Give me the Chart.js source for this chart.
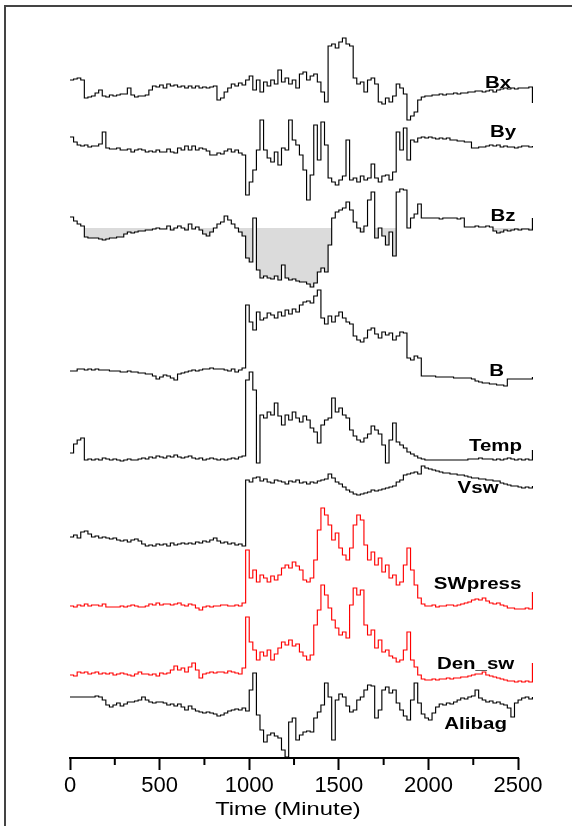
<!DOCTYPE html>
<html lang="en">
<head>
<meta charset="UTF-8">
<title>Solar wind parameters and Alibag</title>
<script src="https://cdn.jsdelivr.net/npm/chart.js"></script>
<style>
  html, body { margin: 0; padding: 0; background: #fff; }
  .page { position: relative; width: 572px; height: 826px; overflow: hidden; }
  /* outer figure frame: only left and top edges show */
  .frame { position: absolute; left: 4px; top: 5px; right: -4px; bottom: -4px;
           border-left: 2px solid #444; border-top: 2px solid #444; }
  canvas { position: absolute; left: 0; top: 0; }
</style>
</head>
<body>
<div class="page">
  <div class="frame"></div>
  <canvas id="chart" width="572" height="826"></canvas>
</div>
<script>
// sample times (minutes)
const minutes = [
  0,20,40,60,80,100,120,140,160,180,
  200,220,240,260,280,300,320,340,360,380,
  400,420,440,460,480,500,520,540,560,580,
  600,620,640,660,680,700,720,740,760,780,
  800,820,840,860,880,900,920,940,960,980,
  1000,1020,1040,1060,1080,1100,1120,1140,1160,1180,
  1200,1220,1240,1260,1280,1300,1320,1340,1360,1380,
  1400,1420,1440,1460,1480,1500,1520,1540,1560,1580,
  1600,1620,1640,1660,1680,1700,1720,1740,1760,1780,
  1800,1820,1840,1860,1880,1900,1920,1940,1960,1980,
  2000,2020,2040,2060,2080,2100,2120,2140,2160,2180,
  2200,2220,2240,2260,2280,2300,2320,2340,2360,2380,
  2400,2420,2440,2460,2480,2500,2520,2540,2560,2580
];

// each trace in its own arbitrary units (0 = quiet level)
const bx = [
  16,17,18,16,-2,-1,0,3,6,0,
  -1,1,0,1,2,2,8,1,-1,0,
  0,1,6,10,9,11,8,12,10,11,
  9,10,8,10,8,10,8,9,8,9,
  10,-4,-2,4,8,12,10,13,11,16,
  20,6,16,4,14,10,16,12,26,14,
  18,12,16,8,22,24,16,20,22,14,
  4,-6,50,52,48,54,58,52,50,18,
  12,14,4,16,18,12,-6,-8,-2,-6,
  0,12,8,2,-24,-20,-16,-4,-1,0,
  0,1,1,2,1,2,2,3,2,3,
  3,4,4,5,5,4,5,6,4,6,
  7,8,7,8,7,8,8,8,9,-7
];
const by = [
  13,8,5,4,5,3,4,4,6,18,
  2,1,1,2,0,0,1,-2,0,1,
  0,-2,-1,-2,0,-2,-2,1,-2,-3,
  2,0,4,0,4,0,2,1,-1,-5,
  -5,-3,-4,-1,1,-2,0,-3,-5,-45,
  -32,-20,0,30,0,-8,-12,-2,-15,2,
  0,30,10,5,-5,-20,-50,-25,25,-10,
  28,5,-28,-32,-35,-30,-26,10,-30,-28,
  -32,-26,-30,-28,-14,-28,-32,-26,-25,-30,
  -22,18,0,22,-10,10,8,12,13,12,
  13,12,11,12,11,12,10,10,9,9,
  8,8,2,2,3,3,4,5,4,5,
  3,4,3,3,2,3,4,4,3,4
];
const bz = [
  11,7,4,2,-9,-10,-10,-10,-11,-12,
  -11,-10,-10,-9,-9,-6,-4,-5,-4,-3,
  -3,-2,-2,-1,0,-1,-1,2,-2,0,
  2,0,-2,4,-1,1,-2,-6,-8,-4,
  0,4,6,12,8,4,0,-4,-8,-30,
  -34,10,-42,-50,-48,-50,-51,-48,-52,-37,
  -50,-52,-51,-53,-54,-54,-56,-59,-55,-44,
  -40,-44,-17,10,16,18,20,26,18,6,
  0,-4,2,28,36,-10,0,-8,-17,-4,
  -28,36,39,38,0,10,14,24,10,10,
  10,10,10,9,10,10,10,10,9,10,
  1,1,1,2,1,1,2,1,-3,-5,
  -4,-2,-3,-2,-1,-2,-1,-1,-2,10
];
const bTotal = [
  -1,-1,1,1,0,1,0,1,0,0,
  0,-1,-1,-1,-2,-2,-1,-2,-2,-3,
  -3,-4,-4,-6,-9,-7,-5,-6,-8,-10,
  -4,-3,-2,-1,0,-1,0,1,1,2,
  1,1,1,0,-1,1,-2,0,2,65,
  48,40,58,50,52,57,55,52,58,54,
  60,56,61,58,65,68,69,67,74,80,
  52,46,54,48,54,58,52,48,46,34,
  30,28,32,40,42,36,32,38,35,37,
  30,34,38,37,12,10,14,12,-6,-6,
  -6,-6,-7,-7,-7,-7,-7,-8,-8,-8,
  -8,-8,-9,-11,-12,-13,-13,-14,-14,-15,
  -15,-16,-9,-9,-9,-9,-9,-9,-9,-7
];
const temp = [
  7,16,20,22,0,1,0,1,0,2,
  1,0,1,0,-1,0,1,0,0,1,
  2,1,3,2,4,3,2,4,3,5,
  3,2,3,4,2,1,2,0,1,2,
  1,0,1,0,1,2,1,3,4,80,
  88,70,-3,45,42,48,45,57,44,35,
  45,40,48,42,38,44,40,32,28,17,
  35,40,42,62,48,52,45,42,30,24,
  20,18,22,26,34,30,26,15,-3,20,
  37,18,15,12,8,6,4,2,1,0,
  0,0,0,0,0,0,0,0,0,0,
  0,1,1,1,2,1,1,1,0,1,
  0,1,2,1,0,1,0,1,0,10
];
const vsw = [
  3,5,2,8,9,6,3,4,2,3,
  2,1,2,0,-1,0,-2,0,1,-1,
  -4,-6,-5,-6,-4,-5,-4,-6,-3,-5,
  -4,-3,-4,-3,-4,-2,-3,-1,-2,0,
  2,-1,-3,-2,-4,-3,-5,-4,-6,60,
  58,62,63,59,61,58,57,60,59,58,
  56,59,58,60,57,58,56,58,57,59,
  60,61,66,62,58,56,53,50,48,46,
  45,46,47,48,50,49,50,51,52,53,
  54,58,60,65,66,67,68,66,74,72,
  71,70,69,68,67,67,66,66,65,65,
  64,63,62,62,61,61,60,60,59,59,
  57,56,55,54,54,53,52,53,52,54
];
const swPress = [
  0,-1,1,0,2,0,1,1,0,2,
  -1,-1,-1,-1,0,-1,0,1,0,-1,
  -1,0,2,1,3,1,2,2,1,2,
  3,1,0,2,1,-2,-4,-1,0,-1,
  0,0,1,1,0,0,1,0,3,56,
  28,36,24,31,28,24,30,26,31,38,
  41,38,44,40,36,26,24,28,46,76,
  98,91,81,66,73,58,51,46,58,81,
  91,86,61,46,54,41,48,34,41,28,
  31,21,24,41,58,36,21,8,2,0,
  0,1,-1,0,0,1,1,0,1,2,
  3,4,6,7,6,8,5,3,2,3,
  1,0,-2,-2,-3,-3,-3,-2,-3,14
];
const denSw = [
  -1,-2,2,1,2,0,1,2,0,1,
  0,1,-1,0,1,0,-1,-2,0,2,
  0,0,-1,0,-2,1,0,1,4,8,
  4,6,2,7,11,4,-4,0,1,2,
  1,2,2,1,3,2,1,0,6,57,
  32,24,14,22,18,24,14,20,26,32,
  29,34,28,30,22,18,14,19,49,64,
  89,79,66,54,46,39,42,36,69,86,
  79,84,49,39,44,26,34,22,24,18,
  16,12,14,24,42,14,7,-1,-5,-6,
  -6,-5,-6,-5,-5,-4,-5,-4,-4,-3,
  -3,-2,-1,0,0,2,-1,-2,-3,-4,
  -5,-6,-7,-7,-8,-7,-8,-7,-8,11
];
const alibag = [
  0,0,0,0,0,0,0,1,0,-3,
  -8,-10,-8,-6,-9,-7,-5,-5,-4,-3,
  0,-3,-5,-6,-5,-5,-6,-8,-7,-9,
  -7,-10,-13,-9,-12,-14,-15,-16,-15,-16,
  -17,-19,-18,-16,-14,-13,-12,-13,-11,-14,
  7,24,-18,-33,-45,-38,-36,-39,-41,-53,
  -60,-25,-21,-43,-38,-35,-34,-35,-21,-15,
  -8,14,0,-43,-3,3,0,-9,-15,-13,
  -3,0,7,12,11,-21,-13,7,10,4,
  7,-6,-13,-19,-23,-3,14,-6,-17,-21,
  -23,-16,-10,-7,-8,-6,-7,-5,-3,-1,
  -2,0,1,7,-1,-3,-5,-4,-6,-5,
  -7,-8,-11,-20,-6,-3,-1,0,-2,0
];

const traceNames = ['Bx', 'By', 'Bz', 'B', 'Temp', 'Vsw', 'SWpress', 'Den_sw', 'Alibag'];
const traceValues = [bx, by, bz, bTotal, temp, vsw, swPress, denSw, alibag];
// vertical stacking level of each trace on the shared (hidden) y axis
const traceOffsets = [662, 608, 530, 388, 298, 218, 152, 84, 61];
const traceColors = ['#000', '#000', '#000', '#000', '#000', '#000', '#ff0000', '#ff0000', '#000'];

// where the trace names sit (minutes, y level)
const labelMinutes = [2388, 2416, 2416, 2380, 2374, 2277, 2274, 2263, 2263];
const labelLevels = [670, 621, 537, 382, 307, 265, 169, 89, 29];

// x axis ticks
const tickValues = [0, 250, 500, 750, 1000, 1250, 1500, 1750, 2000, 2250, 2500];
const tickLabels = ['0', '', '500', '', '1000', '', '1500', '', '2000', '', '2500'];
const xTitle = 'Time (Minute)';

const FONT = "'Liberation Sans', Arial, sans-serif";

const datasets = traceNames.map((name, k) => {
  const ds = {
    label: name,
    data: minutes.map((t, i) => ({ x: t, y: traceOffsets[k] + traceValues[k][i] })),
    borderColor: traceColors[k],
    borderWidth: 1.15,
    stepped: true,
    pointRadius: 0,
    fill: false
  };
  if (name === 'Bz') {
    // shade where Bz is southward (below its zero line)
    ds.fill = { target: { value: traceOffsets[k] }, above: 'rgba(0,0,0,0)', below: 'rgba(190,190,190,0.55)' };
  }
  return ds;
});

// axis line (stops at 2500), short minor ticks, trace names and axis title
const decor = {
  id: 'decor',
  afterDraw(chart) {
    const ctx = chart.ctx;
    const xs = chart.scales.x;
    const ys = chart.scales.y;
    const bottom = chart.chartArea.bottom;
    ctx.save();
    ctx.strokeStyle = '#000';
    ctx.lineWidth = 2;
    ctx.beginPath();
    ctx.moveTo(xs.getPixelForValue(0) - 1, bottom);
    ctx.lineTo(xs.getPixelForValue(2500) + 1, bottom);
    ctx.stroke();
    tickValues.forEach((v, i) => {
      if (tickLabels[i]) return;
      const px = xs.getPixelForValue(v);
      ctx.beginPath();
      ctx.moveTo(px, bottom);
      ctx.lineTo(px, bottom + 7);
      ctx.stroke();
    });

    ctx.fillStyle = '#000';
    ctx.textAlign = 'center';
    ctx.textBaseline = 'alphabetic';
    ctx.font = 'bold 16px ' + FONT;
    traceNames.forEach((name, k) => {
      ctx.save();
      ctx.translate(xs.getPixelForValue(labelMinutes[k]), ys.getPixelForValue(labelLevels[k]));
      ctx.scale(1.28, 1);
      ctx.fillText(name, 0, 0);
      ctx.restore();
    });

    ctx.font = '19px ' + FONT;
    ctx.save();
    ctx.translate(xs.getPixelForValue(1216), bottom + 57);
    ctx.scale(1.25, 1);
    ctx.fillText(xTitle, 0, 0);
    ctx.restore();
    ctx.restore();
  }
};

new Chart(document.getElementById('chart').getContext('2d'), {
  type: 'line',
  data: { datasets: datasets },
  options: {
    responsive: false,
    animation: false,
    devicePixelRatio: 1,
    layout: { padding: { left: 70, right: 36, top: 20, bottom: 0 } },
    plugins: { legend: { display: false }, tooltip: { enabled: false } },
    scales: {
      x: {
        type: 'linear',
        min: 0,
        max: 2600,
        afterBuildTicks: (s) => { s.ticks = tickValues.map(v => ({ value: v })); },
        afterFit: (s) => { s.height = 68; },
        border: { display: false },
        grid: {
          drawOnChartArea: false,
          drawTicks: true,
          tickLength: 12,
          tickWidth: 2,
          tickColor: (c) => (tickLabels[c.index] ? '#000' : 'rgba(0,0,0,0)')
        },
        ticks: {
          color: '#000',
          font: { family: FONT, size: 22 },
          padding: 3,
          maxRotation: 0,
          autoSkip: false,
          callback: (v, i) => tickLabels[i]
        }
      },
      y: { display: false, min: 0, max: 738 }
    }
  },
  plugins: [decor]
});
</script>
</body>
</html>
